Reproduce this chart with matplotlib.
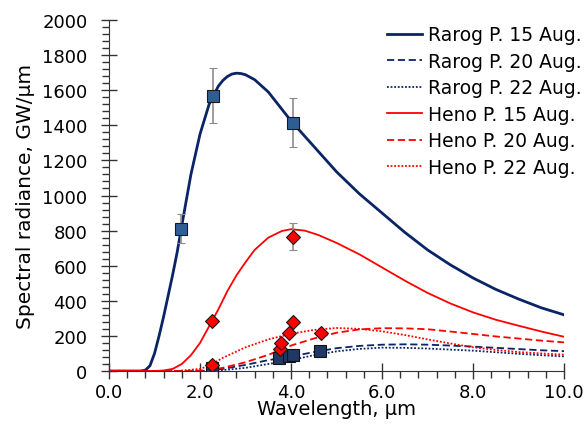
import matplotlib
matplotlib.use("Agg")
import matplotlib.pyplot as plt
from matplotlib.ticker import MultipleLocator

# curves
x_r15 = [0.0, 0.5, 0.7, 0.8, 0.9, 1.0, 1.1, 1.2, 1.3, 1.4, 1.5, 1.6, 1.8, 2.0, 2.2, 2.4, 2.5, 2.6,
         2.7, 2.8, 2.9, 3.0, 3.2, 3.5, 4.0, 4.5, 5.0, 5.5, 6.0, 6.5, 7.0, 7.5, 8.0, 8.5, 9.0, 9.5, 10.0]
rarog15 = [0, 0, 0, 5, 30, 100, 200, 310, 430, 550, 680, 830, 1120, 1350, 1520, 1622, 1655, 1678,
           1692, 1697, 1695, 1688, 1660, 1590, 1425, 1280, 1135, 1010, 900, 790, 690, 605, 530, 465,
           410, 360, 320]

x_h15 = [0.0, 1.0, 1.2, 1.4, 1.6, 1.8, 2.0, 2.2, 2.4, 2.6, 2.8, 3.0, 3.2, 3.5, 3.8, 4.0, 4.3,
         4.6, 5.0, 5.5, 6.0, 6.5, 7.0, 7.5, 8.0, 8.5, 9.0, 9.5, 10.0]
heno15 = [0, 0, 3, 12, 40, 90, 160, 255, 350, 455, 545, 620, 690, 760, 798, 808, 800,
          775, 730, 665, 590, 515, 445, 385, 334, 292, 258, 225, 195]

x_small = [0.0, 1.5, 2.0, 2.2, 2.5, 3.0, 3.5, 4.0, 4.5, 5.0, 5.5, 6.0, 6.5, 7.0, 7.5, 8.0,
           8.5, 9.0, 9.5, 10.0]
rarog20 = [0, 0, 1, 4, 12, 35, 62, 82, 108, 130, 143, 150, 152, 150, 145, 139, 132, 125, 118, 113]
rarog22 = [0, 0, 0, 2, 5, 18, 40, 62, 90, 112, 126, 133, 132, 128, 122, 116, 107, 98, 90, 83]
heno20 = [0, 0, 2, 6, 18, 50, 92, 145, 185, 218, 237, 244, 243, 238, 225, 211, 197, 185, 173, 163]
heno22 = [0, 0, 12, 30, 75, 135, 180, 212, 234, 245, 240, 226, 205, 180, 157, 135, 120, 108, 100, 93]

# measured points
rarog_pts_x = [1.58, 2.28, 4.04]
rarog_pts_y = [809, 1569, 1413]
rarog_err_lo = [80, 155, 138]
rarog_err_hi = [86, 156, 143]

rarog_low_x = [2.26, 3.74, 3.95, 4.05, 4.64]
rarog_low_y = [15, 72, 87, 90, 112]

heno_pts_x = [2.26, 4.04, 2.26, 3.76, 3.78, 3.96, 4.04, 4.66]
heno_pts_y = [287, 765, 34, 125, 157, 214, 277, 216]
heno_err = [0, 77, 0, 0, 0, 0, 0, 0]

navy = "#0a2466"
red = "#ff0000"

fig = plt.figure(figsize=(5.87, 4.27), dpi=100)
ax = fig.add_axes([0.1857, 0.1288, 0.961 - 0.1857, 0.9508 - 0.1288])

ax.plot(x_r15, rarog15, color=navy, lw=2.0, label="Rarog P. 15 Aug.")
ax.plot(x_small, rarog20, color=navy, lw=1.3, ls=(0, (4, 2)), label="Rarog P. 20 Aug.")
ax.plot(x_small, rarog22, color=navy, lw=1.3, ls=(0, (1, 1)), label="Rarog P. 22 Aug.")
ax.plot(x_h15, heno15, color=red, lw=1.3, label="Heno P. 15 Aug.")
ax.plot(x_small, heno20, color=red, lw=1.3, ls=(0, (4, 2)), label="Heno P. 20 Aug.")
ax.plot(x_small, heno22, color=red, lw=1.3, ls=(0, (1, 1)), label="Heno P. 22 Aug.")

ax.errorbar(rarog_pts_x, rarog_pts_y, yerr=[rarog_err_lo, rarog_err_hi], fmt="s",
            ms=8, mfc="#2d5f96", mec="#1a1a1a", mew=0.8, ecolor="#8c8c8c",
            elinewidth=1.2, capsize=3, zorder=5)
ax.plot(rarog_low_x, rarog_low_y, "s", ms=8, mfc="#1f3864", mec="#111111", mew=0.8, zorder=5)
ax.errorbar(heno_pts_x, heno_pts_y, yerr=heno_err, fmt="D", ms=7, mfc=red,
            mec="#1a1a1a", mew=0.8, ecolor="#8c8c8c", elinewidth=1.2, capsize=3, zorder=6)

ax.set_xlim(0, 10)
ax.set_ylim(0, 2000)
ax.xaxis.set_major_locator(MultipleLocator(2))
ax.xaxis.set_minor_locator(MultipleLocator(0.4))
ax.yaxis.set_major_locator(MultipleLocator(200))
ax.yaxis.set_minor_locator(MultipleLocator(40))
ax.xaxis.set_major_formatter(plt.FuncFormatter(lambda v, p: f"{v:.1f}"))

for s in ["top", "right"]:
    ax.spines[s].set_visible(False)
for s in ["left", "bottom"]:
    ax.spines[s].set_color("#333333")
ax.tick_params(which="major", direction="inout", length=11, width=1, colors="#333333",
               labelsize=13, labelcolor="black")
ax.tick_params(which="minor", direction="out", length=5, width=1, colors="#333333")
ax.tick_params(axis="x", which="major", pad=3)
ax.tick_params(axis="y", which="major", pad=10)

ax.set_xlabel("Wavelength, µm", fontsize=14, labelpad=-1)
ax.set_ylabel("Spectral radiance, GW/µm", fontsize=14.5, labelpad=5)

ax.legend(loc="upper left", bbox_to_anchor=(378 / 587, 1 - 17 / 427),
          bbox_transform=fig.transFigure, frameon=False, fontsize=13.5,
          handlelength=1.85, handletextpad=0.3, labelspacing=0.4, borderpad=0)

fig.savefig("out.png", dpi=100)
